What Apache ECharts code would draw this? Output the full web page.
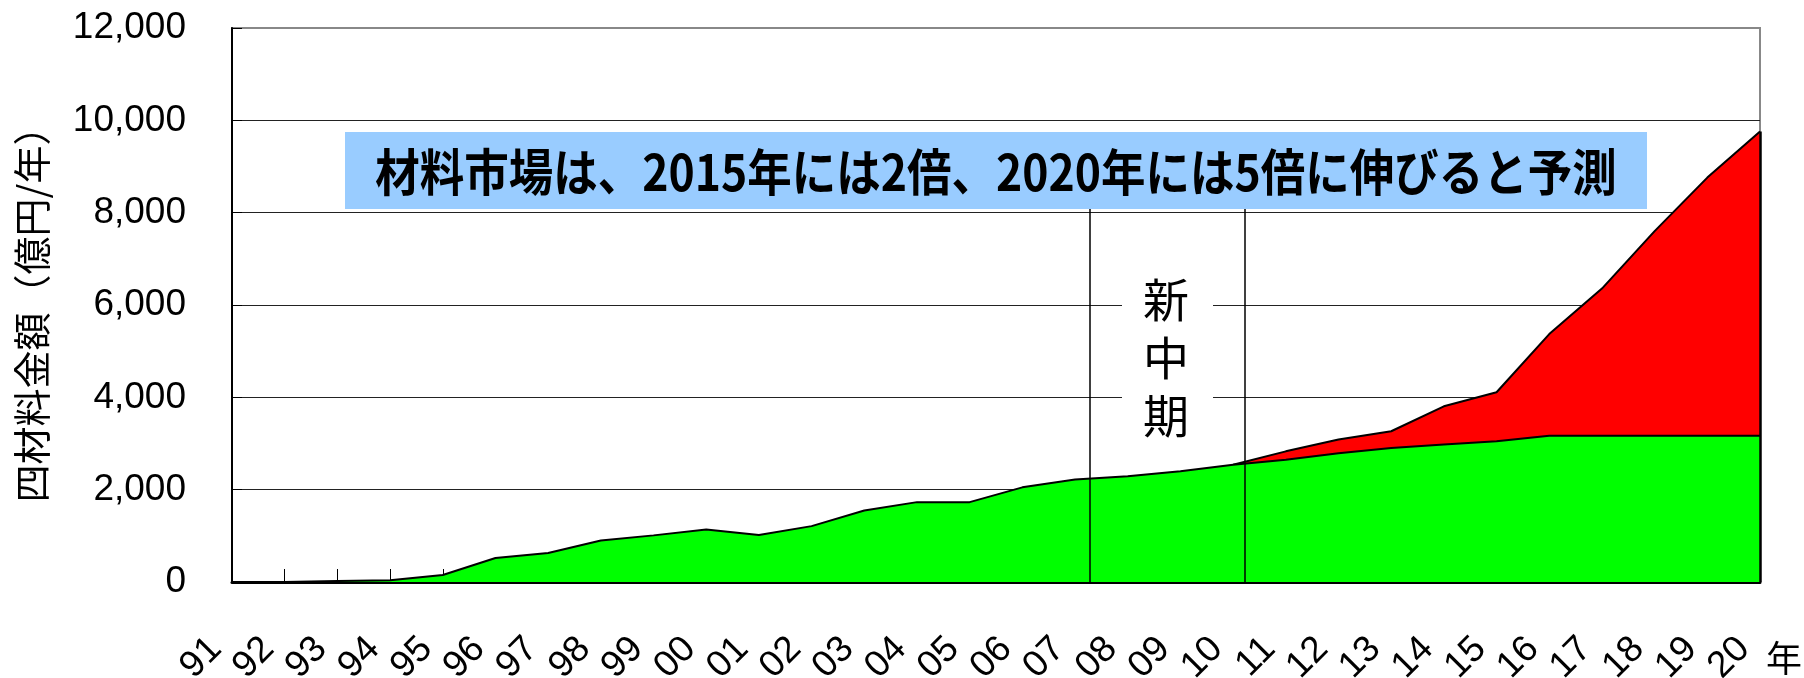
<!DOCTYPE html>
<html>
<head>
<meta charset="utf-8">
<title>四材料市場規模の推移</title>
<script src="https://cdn.jsdelivr.net/npm/echarts@6/dist/echarts.min.js"></script>
<style>
  html, body { margin: 0; padding: 0; background: #ffffff; }
  #chart { width: 1804px; height: 678px; }
</style>
</head>
<body>
<div id="chart"></div>
<script>
// 年（西暦下2桁）
const categories = ['91','92','93','94','95','96','97','98','99','00',
                    '01','02','03','04','05','06','07','08','09','10',
                    '11','12','13','14','15','16','17','18','19','20'];

// 既存市場（億円/年）
const baseMarket = [0, 0, 20, 40, 150, 520, 630, 900, 1010, 1135,
                    1020, 1210, 1550, 1730, 1730, 2050, 2220, 2290, 2400, 2540,
                    2650, 2790, 2900, 2980, 3050, 3170, 3170, 3170, 3170, 3170];

// 新規市場の上乗せ分（億円/年）
const newMarket = [null, null, null, null, null, null, null, null, null, null,
                   null, null, null, null, null, null, null, null, null, 0,
                   180, 295, 365, 825, 1060, 2200, 3185, 4430, 5590, 6590];

const yTickLabels = ['0', '2,000', '4,000', '6,000', '8,000', '10,000', '12,000'];

const yTitle = '四材料金額（億円/年）';
const headline = '材料市場は、2015年には2倍、2020年には5倍に伸びると予測';
const periodLabel = '新\n中\n期';
const xUnit = '年';

const chart = echarts.init(document.getElementById('chart'));

const lastIdx = categories.length - 1;
// 市場全体 = 既存 + 新規（新規が無い年は描かない）
const totalMarket = baseMarket.map((v, i) => newMarket[i] == null ? null : v + newMarket[i]);
const topTotal = totalMarket[lastIdx];

const latin = '"Liberation Sans", Arial, sans-serif';
const cjk = '"Noto Sans CJK JP", sans-serif';

chart.setOption({
  animation: false,
  backgroundColor: '#ffffff',
  grid: {
    left: 232, right: 44, top: 28, bottom: 96,
    outerBoundsMode: 'none',
    containLabel: false,
    show: true, borderColor: '#888888', borderWidth: 2, backgroundColor: '#ffffff'
  },
  xAxis: {
    type: 'value',
    min: 0, max: lastIdx, interval: 1,
    axisLine: { show: true, onZero: false, lineStyle: { color: '#000', width: 3 } },
    axisTick: { show: true, inside: true, length: 13, lineStyle: { color: '#000', width: 1 } },
    splitLine: { show: false },
    axisLabel: {
      rotate: 45, margin: 45, padding: [0, 23, 0, 0],
      fontFamily: latin, fontSize: 37, color: '#000',
      showMinLabel: true, showMaxLabel: true,
      formatter: v => categories[Math.round(v)]
    }
  },
  yAxis: {
    type: 'value',
    min: 0, max: 12000, interval: 2000,
    axisLine: { show: true, lineStyle: { color: '#000', width: 2 } },
    axisTick: { show: true, inside: true, length: 10, lineStyle: { color: '#000', width: 1 } },
    splitLine: {
      show: true,
      lineStyle: { color: ['#222', '#222', '#222', '#222', '#222', '#222', '#888'], width: 1 }
    },
    axisLabel: {
      margin: 46, fontFamily: latin, fontSize: 37, color: '#000',
      formatter: v => yTickLabels[Math.round(v / 2000)]
    }
  },
  series: [
    {
      // 市場全体（赤）を先に描き、その上に既存市場（緑）を重ねる
      name: '新規市場',
      type: 'line',
      symbol: 'none',
      data: totalMarket.map((v, i) => [i, v]),
      lineStyle: { color: '#000', width: 2 },
      areaStyle: { color: '#ff0000', opacity: 1 },
      z: 2
    },
    {
      name: '既存市場',
      type: 'line',
      symbol: 'none',
      data: baseMarket.map((v, i) => [i, v]),
      lineStyle: { color: '#000', width: 2 },
      areaStyle: { color: '#00ff00', opacity: 1 },
      z: 3,
      markLine: {
        silent: true,
        symbol: 'none',
        label: { show: false },
        lineStyle: { color: '#000', width: 1.5, type: 'solid' },
        data: [
          [{ coord: [16.27, 0] }, { coord: [16.27, 8200] }],
          [{ coord: [19.22, 0] }, { coord: [19.22, 8200] }],
          [{ coord: [lastIdx, 0], lineStyle: { width: 2.5 } }, { coord: [lastIdx, topTotal] }]
        ]
      }
    }
  ],
  graphic: [
    {
      type: 'text', x: 32, y: 305, rotation: Math.PI / 2, z: 100,
      style: { text: yTitle, font: '38px ' + cjk, fill: '#000', textAlign: 'center', textVerticalAlign: 'middle' }
    },
    {
      type: 'rect', z: 100,
      shape: { x: 345, y: 132, width: 1302, height: 77 },
      style: { fill: '#99ccff' }
    },
    {
      type: 'text', x: 996, y: 172, z: 101, scaleX: 0.89,
      style: { text: headline, font: 'bold 50px ' + cjk, fill: '#000', textAlign: 'center', textVerticalAlign: 'middle' }
    },
    {
      type: 'rect', z: 100,
      shape: { x: 1122, y: 265, width: 91, height: 183 },
      style: { fill: '#ffffff' }
    },
    {
      type: 'text', x: 1166, y: 358, z: 101,
      style: { text: periodLabel, font: '46px ' + cjk, lineHeight: 58, fill: '#000', textAlign: 'center', textVerticalAlign: 'middle' }
    },
    {
      type: 'text', x: 1784, y: 658, z: 101,
      style: { text: xUnit, font: '36px ' + cjk, fill: '#000', textAlign: 'center', textVerticalAlign: 'middle' }
    }
  ]
});
</script>
</body>
</html>
